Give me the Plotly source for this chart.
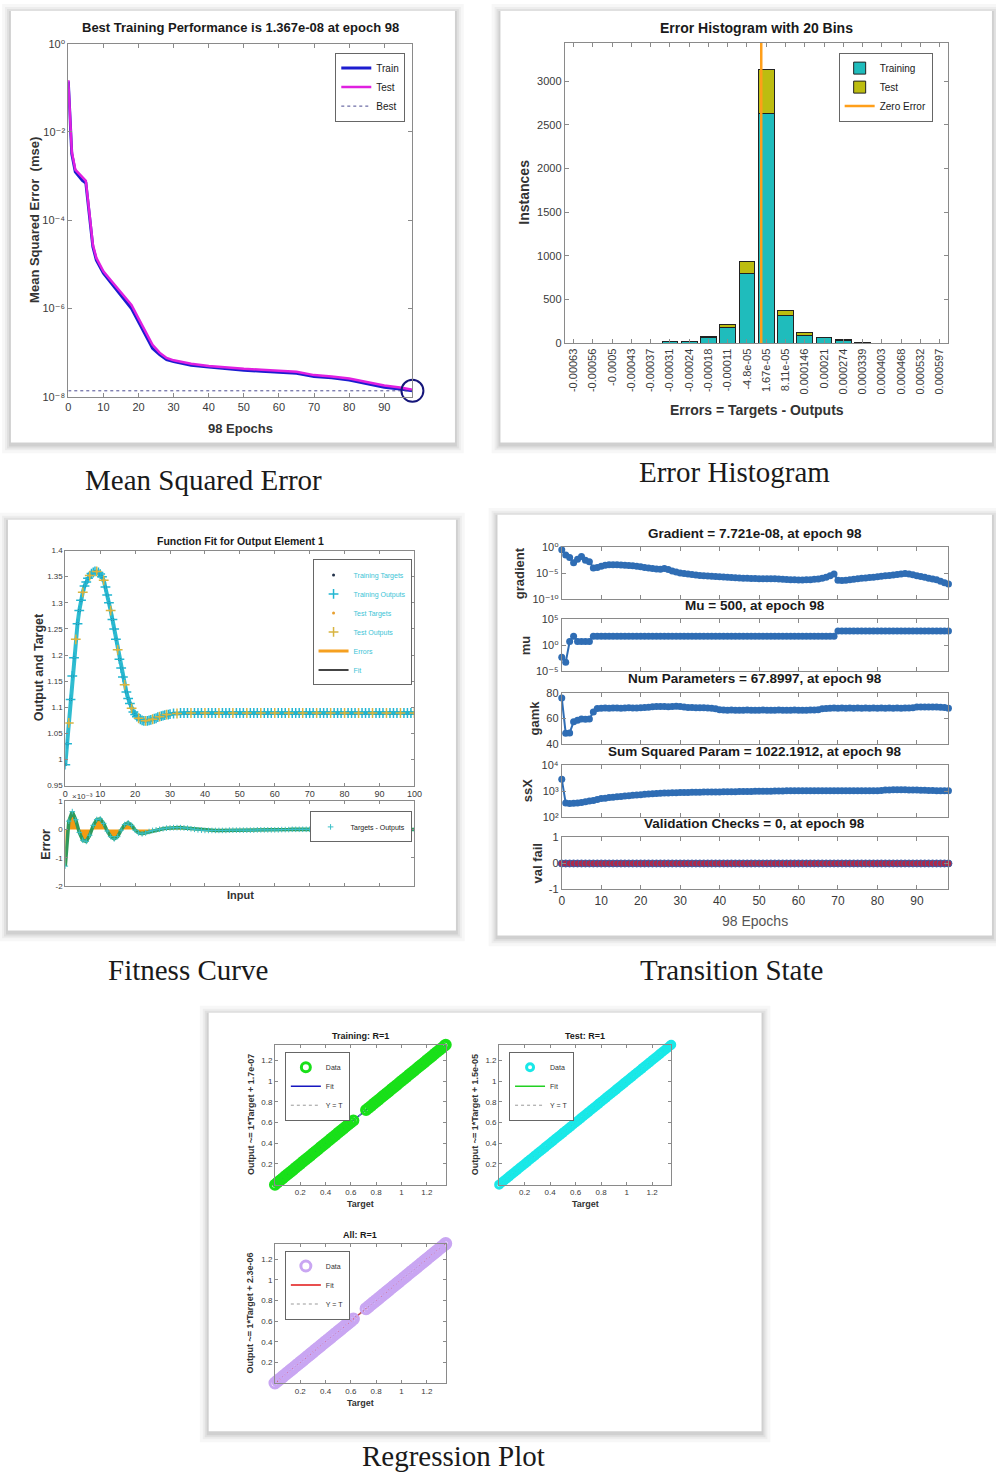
import plotly.graph_objects as go

W, H = 996, 1477
SANS = "Liberation Sans, Arial, DejaVu Sans, sans-serif"
SERIF = "Liberation Serif, Times New Roman, serif"
AX = "#8a8a8a"
TK = "#3a3a3a"

# ---------------- DATA ----------------
# Panel 1: performance (MSE)
mse_epochs = [0, 1, 2, 3, 4, 5, 6, 7, 8, 9, 10, 12, 14, 16, 18, 20, 22, 24, 26, 28, 30,
              35, 40, 45, 50, 55, 60, 65, 70, 75, 80, 85, 90, 95, 98]
mse_train = [1.4e-1, 3.2e-3, 1.25e-3, 1.0e-3, 8.0e-4, 7.0e-4, 1.3e-4, 2.5e-5, 1.25e-5, 9.0e-6,
             6.3e-6, 4.0e-6, 2.5e-6, 1.6e-6, 1.0e-6, 5.0e-7, 2.5e-7, 1.26e-7, 9.0e-8, 7.0e-8,
             6.3e-8, 5.2e-8, 4.7e-8, 4.3e-8, 4.0e-8, 3.8e-8, 3.6e-8, 3.4e-8, 2.9e-8, 2.7e-8,
             2.4e-8, 2.0e-8, 1.65e-8, 1.48e-8, 1.367e-8]
mse_test = [1.5e-1, 3.6e-3, 1.4e-3, 1.15e-3, 9.0e-4, 7.8e-4, 1.5e-4, 2.8e-5, 1.4e-5, 1.0e-5,
            7.0e-6, 4.5e-6, 2.9e-6, 1.9e-6, 1.2e-6, 6.0e-7, 3.0e-7, 1.5e-7, 1.0e-7, 7.6e-8,
            6.7e-8, 5.6e-8, 5.0e-8, 4.6e-8, 4.3e-8, 4.1e-8, 3.9e-8, 3.7e-8, 3.1e-8, 2.9e-8,
            2.6e-8, 2.2e-8, 1.8e-8, 1.6e-8, 1.45e-8]
best_mse = 1.367e-8
best_epoch = 98

# Panel 2: error histogram
bin_labels = ['-0.00063', '-0.00056', '-0.0005', '-0.00043', '-0.00037', '-0.00031',
              '-0.00024', '-0.00018', '-0.00011', '-4.8e-05', '1.67e-05', '8.11e-05',
              '0.000146', '0.00021', '0.000274', '0.000339', '0.000403', '0.000468',
              '0.000532', '0.000597']
hist_training = [2, 0, 0, 0, 0, 20, 20, 65, 182, 795, 2628, 322, 94, 60, 30, 4, 0, 0, 0, 0]
hist_test = [0, 0, 0, 0, 0, 5, 5, 15, 34, 140, 505, 53, 27, 8, 8, 1, 0, 0, 0, 0]

# Panel 3: function fit
fit_input = [0, 0.5, 1, 1.5, 2, 2.5, 3, 3.5, 4, 4.5, 5, 5.5, 6, 6.5, 7, 7.5, 8, 8.5, 9, 9.5,
             10, 10.5, 11, 11.5, 12, 12.5, 13, 13.5, 14, 14.5, 15, 15.5, 16, 16.5, 17, 17.5,
             18, 18.5, 19, 19.5, 20, 20.5, 21, 21.5, 22, 22.5, 23, 23.5, 24, 24.5, 25, 25.5,
             26, 26.5, 27, 27.5, 28, 28.5, 29, 29.5, 30,
             31, 32, 33, 34, 35, 36, 37, 38, 39, 40, 41, 42, 43, 44, 45, 46, 47, 48, 49, 50,
             51, 52, 53, 54, 55, 56, 57, 58, 59, 60, 61, 62, 63, 64, 65, 66, 67, 68, 69, 70,
             71, 72, 73, 74, 75, 76, 77, 78, 79, 80, 81, 82, 83, 84, 85, 86, 87, 88, 89, 90,
             91, 92, 93, 94, 95, 96, 97, 98, 99, 100]
fit_output = [0.99, 1.03, 1.07, 1.115, 1.16, 1.195, 1.23, 1.26, 1.285, 1.305, 1.32, 1.332,
              1.34, 1.347, 1.352, 1.356, 1.358, 1.36, 1.36, 1.358, 1.355, 1.35, 1.343, 1.33,
              1.315, 1.30, 1.285, 1.268, 1.25, 1.23, 1.21, 1.192, 1.175, 1.158, 1.143, 1.129,
              1.117, 1.107, 1.098, 1.091, 1.086, 1.082, 1.079, 1.077, 1.075, 1.074, 1.074,
              1.074, 1.075, 1.076, 1.077, 1.078, 1.079, 1.081, 1.082, 1.083, 1.084, 1.085,
              1.086, 1.086, 1.087,
              1.088, 1.088, 1.089, 1.089, 1.089, 1.089, 1.089, 1.089, 1.089, 1.089,
              1.089, 1.089, 1.089, 1.089, 1.089, 1.089, 1.089, 1.089, 1.089, 1.089,
              1.089, 1.089, 1.089, 1.089, 1.089, 1.089, 1.089, 1.089, 1.089, 1.089,
              1.089, 1.089, 1.089, 1.089, 1.089, 1.089, 1.089, 1.089, 1.089, 1.089,
              1.089, 1.089, 1.089, 1.089, 1.089, 1.089, 1.089, 1.089, 1.089, 1.089,
              1.089, 1.089, 1.089, 1.089, 1.089, 1.089, 1.089, 1.089, 1.089, 1.089,
              1.089, 1.089, 1.089, 1.089, 1.089, 1.089, 1.089, 1.089, 1.089, 1.089]
err_input = list(range(0, 101))
fit_error = [-1.3e-3, 0.3e-3, 0.64e-3, 0.35e-3, -0.1e-3, -0.38e-3, -0.42e-3, -0.2e-3, 0.15e-3, 0.36e-3,
             0.38e-3, 0.22e-3, -0.05e-3, -0.25e-3, -0.33e-3, -0.25e-3, -0.02e-3, 0.18e-3, 0.24e-3, 0.15e-3,
             -0.02e-3, -0.12e-3, -0.15e-3, -0.12e-3, -0.07e-3, -0.03e-3, -0.01e-3, 0.01e-3, 0.03e-3, 0.05e-3,
             0.06e-3, 0.07e-3, 0.07e-3, 0.07e-3, 0.06e-3, 0.05e-3, 0.03e-3, 0.01e-3, -0.01e-3, -0.02e-3,
             -0.03e-3, -0.03e-3, -0.03e-3, -0.03e-3, -0.03e-3, -0.03e-3, -0.03e-3, -0.02e-3, -0.02e-3, -0.02e-3,
             -0.02e-3, -0.02e-3, -0.02e-3, -0.02e-3, -0.02e-3, -0.01e-3, -0.01e-3, -0.01e-3, -0.01e-3, -0.01e-3,
             -0.01e-3, -0.01e-3, 0.0, 0.0, 0.0, 0.01e-3, 0.01e-3, 0.01e-3, 0.01e-3, 0.01e-3,
             0.01e-3, 0.01e-3, 0.01e-3, 0.01e-3, 0.01e-3, 0.01e-3, 0.01e-3, 0.01e-3, 0.01e-3, 0.01e-3,
             0.01e-3, 0.01e-3, 0.0, 0.0, 0.0, 0.0, 0.0, 0.0, 0.0, 0.0,
             0.0, 0.0, 0.0, 0.0, 0.0, 0.0, 0.0, 0.0, 0.0, 0.0,
             0.0]
test_every = 4

# Panel 4: training state
state_epochs = list(range(0, 99))
grad_log10 = [-0.5, -1.5, -2.0, -3.0, -2.3, -1.8, -2.5, -2.8, -4.0, -3.9,
              -3.7, -3.5, -3.4, -3.4, -3.4, -3.45, -3.5, -3.55, -3.6, -3.7,
              -3.8, -3.9, -4.0, -4.1, -4.2, -4.25, -4.1, -4.3, -4.6, -4.8,
              -5.0, -5.1, -5.2, -5.3, -5.4, -5.45, -5.5, -5.55, -5.6, -5.65,
              -5.7, -5.75, -5.8, -5.85, -5.9, -5.95, -6.0, -6.0, -6.05, -6.05,
              -6.1, -6.1, -6.1, -6.1, -6.1, -6.15, -6.2, -6.25, -6.3, -6.3,
              -6.35, -6.35, -6.3, -6.3, -6.2, -6.15, -6.0, -5.8, -5.5, -5.2,
              -6.4, -6.45, -6.4, -6.3, -6.2, -6.1, -6.0, -5.95, -5.85, -5.8,
              -5.7, -5.6, -5.5, -5.45, -5.4, -5.3, -5.2, -5.1, -5.2, -5.35,
              -5.5, -5.65, -5.8, -6.0, -6.15, -6.3, -6.6, -6.9, -7.11]
mu_vals = [0.005, 0.0005, 5, 50, 5, 5, 5, 5,
           50, 50, 50, 50, 50, 50, 50, 50, 50, 50, 50, 50, 50, 50, 50, 50, 50, 50, 50, 50,
           50, 50, 50, 50, 50, 50, 50, 50, 50, 50, 50, 50, 50, 50, 50, 50, 50, 50, 50, 50,
           50, 50, 50, 50, 50, 50, 50, 50, 50, 50, 50, 50, 50, 50, 50, 50, 50, 50, 50, 50,
           50, 50,
           500, 500, 500, 500, 500, 500, 500, 500, 500, 500, 500, 500, 500, 500, 500,
           500, 500, 500, 500, 500, 500, 500, 500, 500, 500, 500, 500, 500, 500]
gamk_vals = [75.9, 48.5, 48.8, 57.4, 58.7, 59.5, 59.3, 59.6, 65.0, 67.7,
             68.0, 68.1, 68.0, 68.2, 68.1, 68.0, 68.2, 68.3, 68.1, 68.2, 68.4, 68.5, 68.7,
             69.0, 69.2, 69.3, 69.2, 69.1, 69.3, 69.4, 69.2,
             68.8, 68.6, 68.5, 68.4, 68.3, 68.3, 68.2, 68.0, 67.6,
             66.8, 66.5, 66.4, 66.5, 66.4, 66.3, 66.4, 66.5, 66.4, 66.3, 66.4, 66.5, 66.4,
             66.3, 66.4, 66.5, 66.4, 66.3, 66.4, 66.5, 66.4, 66.3, 66.4, 66.5, 66.6, 66.8,
             67.5, 67.8, 68.0, 68.1, 68.0, 68.1, 68.0, 68.1, 68.0, 68.1, 68.0, 68.1, 68.0,
             68.1, 68.0, 68.1, 68.0, 68.1, 68.0, 68.1, 68.0, 68.1, 68.2, 68.3,
             68.8, 68.9, 68.9, 68.8, 68.9, 68.8, 68.7, 68.5, 67.9]
ssx_vals = [2900, 340, 330, 335, 345, 360, 385, 410, 430, 470,
            510, 530, 555, 575, 600, 617, 640, 660, 685, 705,
            725, 745, 770, 790, 810, 830, 840, 850, 858, 865, 870,
            878, 885, 892, 898, 905, 910, 915, 920, 925, 930,
            935, 940, 945, 950, 955, 960, 965, 970, 975, 980, 985, 990, 995, 1000, 1010,
            1015, 1018, 1020, 1022, 1020, 1018, 1020, 1022, 1020, 1018, 1020, 1022, 1020,
            1018, 1020, 1022, 1020, 1018, 1020, 1022, 1020, 1018, 1020, 1022, 1025,
            1060, 1090, 1110, 1120, 1125, 1120, 1115, 1110, 1100, 1090, 1080, 1070, 1060,
            1050, 1040, 1035, 1030, 1022.19]
valfail_vals = [0, 0, 0, 0, 0, 0, 0, 0, 0, 0, 0, 0, 0, 0, 0, 0, 0, 0, 0, 0, 0, 0, 0, 0, 0,
                0, 0, 0, 0, 0, 0, 0, 0, 0, 0, 0, 0, 0, 0, 0, 0, 0, 0, 0, 0, 0, 0, 0, 0, 0,
                0, 0, 0, 0, 0, 0, 0, 0, 0, 0, 0, 0, 0, 0, 0, 0, 0, 0, 0, 0, 0, 0, 0, 0, 0,
                0, 0, 0, 0, 0, 0, 0, 0, 0, 0, 0, 0, 0, 0, 0, 0, 0, 0, 0, 0, 0, 0, 0, 0]
state_titles = ["Gradient = 7.721e-08, at epoch 98", "Mu = 500, at epoch 98",
                "Num Parameters = 67.8997, at epoch 98",
                "Sum Squared Param = 1022.1912, at epoch 98",
                "Validation Checks = 0, at epoch 98"]
state_ylabels = ["gradient", "mu", "gamk", "ssX", "val fail"]

# Panel 5: regression
reg_train_targets = [0.00, 0.02, 0.04, 0.06, 0.08, 0.10, 0.12, 0.14, 0.16, 0.18, 0.20,
                     0.22, 0.24, 0.26, 0.28, 0.30, 0.32, 0.34, 0.36, 0.38, 0.40, 0.42,
                     0.44, 0.46, 0.48, 0.50, 0.52, 0.54, 0.56, 0.58, 0.60, 0.62,
                     0.72, 0.74, 0.76, 0.78, 0.80, 0.82, 0.84, 0.86, 0.88, 0.90, 0.92,
                     0.94, 0.96, 0.98, 1.00, 1.02, 1.04, 1.06, 1.08, 1.10, 1.12, 1.14,
                     1.16, 1.18, 1.20, 1.22, 1.24, 1.26, 1.28, 1.30, 1.32, 1.34, 1.35]
reg_train_outputs = list(reg_train_targets)
reg_test_targets = [0.00, 0.02, 0.04, 0.06, 0.08, 0.10, 0.12, 0.14, 0.16, 0.18, 0.20,
                    0.22, 0.24, 0.26, 0.28, 0.30, 0.32, 0.34, 0.36, 0.38, 0.40, 0.42,
                    0.44, 0.46, 0.48, 0.50, 0.52, 0.54, 0.56, 0.58, 0.60, 0.62, 0.64,
                    0.66, 0.68, 0.70, 0.72, 0.74, 0.76, 0.78, 0.80, 0.82, 0.84, 0.86,
                    0.88, 0.90, 0.92, 0.94, 0.96, 0.98, 1.00, 1.02, 1.04, 1.06, 1.08,
                    1.10, 1.12, 1.14, 1.16, 1.18, 1.20, 1.22, 1.24, 1.26, 1.28, 1.30,
                    1.32, 1.34, 1.35]
reg_test_outputs = list(reg_test_targets)
reg_all_targets = list(reg_train_targets)
reg_all_outputs = list(reg_train_outputs)
reg_range = [0.0, 1.35]

# ---------------- HELPERS ----------------
def xdom(l, r):
    return [l / W, r / W]

def ydom(t, b):
    return [1 - b / H, 1 - t / H]

annotations = []
shapes = []

def text(s, x, y, size, bold=False, color="#1a1a1a", angle=0, family=SANS):
    annotations.append(dict(text=f"<b>{s}</b>" if bold else s, x=x / W, y=1 - y / H,
                            xref="paper", yref="paper", showarrow=False,
                            font=dict(family=family, size=size, color=color),
                            textangle=angle, xanchor="center", yanchor="middle"))

def panel(l, t, r, b):
    for k, a in [(9, 0.03), (6, 0.04), (4, 0.05), (2, 0.07)]:
        shapes.append(dict(type="rect", xref="paper", yref="paper", layer="below",
                           x0=(l - k) / W, x1=(r + k) / W, y0=1 - (b + k + 2) / H,
                           y1=1 - (t - k + 2) / H, fillcolor=f"rgba(0,0,0,{a})",
                           line=dict(width=0)))
    shapes.append(dict(type="rect", xref="paper", yref="paper", layer="below",
                       x0=l / W, x1=r / W, y0=1 - b / H, y1=1 - t / H,
                       fillcolor="white", line=dict(width=0)))

def axis(dom, rng, anchor, typ="linear", tickvals=None, ticktext=None, labels=True,
         fs=10, ticklen=4, angle=None):
    d = dict(domain=dom, range=rng, anchor=anchor, type=typ, showline=True,
             linecolor=AX, linewidth=1, mirror="ticks", ticks="inside", ticklen=ticklen,
             tickcolor=AX, showgrid=False, zeroline=False, showticklabels=labels,
             tickfont=dict(family=SANS, size=fs, color=TK), fixedrange=True)
    if tickvals is not None:
        d.update(tickmode="array", tickvals=tickvals,
                 ticktext=ticktext if ticktext is not None else [str(v) for v in tickvals])
    if angle is not None:
        d["tickangle"] = angle
    return d

def legend(l, t, fs, color="#1a1a1a", itemwidth=30):
    return dict(x=l / W, y=1 - t / H, xanchor="left", yanchor="top", bgcolor="white",
                bordercolor="#666", borderwidth=1, itemwidth=itemwidth, tracegroupgap=0,
                font=dict(family=SANS, size=fs, color=color), traceorder="normal")

SUPMAP = str.maketrans("0123456789-", "⁰¹²³⁴⁵⁶⁷⁸⁹⁻")

def sup(e):
    return "10" + str(e).translate(SUPMAP)

fig = go.Figure()
layout = {}

# ---------------- PANEL FRAMES & CAPTIONS ----------------
panel(8, 5, 457, 440)
panel(503, 5, 1000, 440)
panel(5, 518, 458, 932)
panel(500, 513, 1000, 937)
panel(208, 1015, 767, 1437)
text("Mean Squared Error", 203, 478, 29, family=SERIF)
text("Error Histogram", 740, 470, 29, family=SERIF)
text("Fitness Curve", 187, 972, 29, family=SERIF)
text("Transition State", 737, 972, 29, family=SERIF)
text("Regression Plot", 456, 1462, 29, family=SERIF)

# ---------------- PANEL 1 ----------------
layout["xaxis"] = axis(xdom(66, 414), [0, 98], "y", tickvals=list(range(0, 91, 10)), fs=11)
layout["yaxis"] = axis(ydom(38, 394), [-8, 0], "x", typ="log",
                       tickvals=[1, 1e-2, 1e-4, 1e-6, 1e-8],
                       ticktext=[sup(0), sup(-2), sup(-4), sup(-6), sup(-8)], fs=11)
fig.add_trace(go.Scatter(x=mse_epochs, y=mse_train, mode="lines", name="Train",
                         line=dict(color="#1c1cd0", width=3), xaxis="x", yaxis="y",
                         legend="legend"))
fig.add_trace(go.Scatter(x=mse_epochs, y=mse_test, mode="lines", name="Test",
                         line=dict(color="#e020e0", width=2.5), xaxis="x", yaxis="y",
                         legend="legend"))
fig.add_trace(go.Scatter(x=[mse_epochs[0], mse_epochs[-1]], y=[best_mse, best_mse],
                         mode="lines", name="Best",
                         line=dict(color="#4a4a90", width=1, dash="dot"),
                         xaxis="x", yaxis="y", legend="legend"))
fig.add_trace(go.Scatter(x=[best_epoch], y=[best_mse], mode="markers", showlegend=False,
                         marker=dict(symbol="circle-open", size=22, color="#16167a",
                                     line=dict(color="#16167a", width=2)),
                         cliponaxis=False, xaxis="x", yaxis="y"))
layout["legend"] = legend(336, 47, 10)
text("Best Training Performance is 1.367e-08 at epoch 98", 240, 22, 13, bold=True)
text("98 Epochs", 240, 426, 13, bold=True, color="#333")
text("Mean Squared Error  (mse)", 32, 216, 13, bold=True, color="#333", angle=-90)

# ---------------- PANEL 2 ----------------
bin_pos = list(range(len(bin_labels)))
i0 = [i for i in range(len(bin_labels) - 1)
      if float(bin_labels[i]) < 0 <= float(bin_labels[i + 1])][0]
zero_pos = i0 + (0 - float(bin_labels[i0])) / (float(bin_labels[i0 + 1]) - float(bin_labels[i0]))
hist_top = 3440
layout["xaxis2"] = axis(xdom(568, 956), [-0.46, 19.46], "y2", tickvals=bin_pos,
                        ticktext=bin_labels, fs=11, angle=-90)
layout["yaxis2"] = axis(ydom(37, 340), [0, hist_top], "x2",
                        tickvals=[0, 500, 1000, 1500, 2000, 2500, 3000], fs=11)
fig.add_trace(go.Bar(x=bin_pos, y=hist_training, name="Training", width=0.82,
                     marker=dict(color="#1fbcbc", line=dict(color="#222", width=1)),
                     xaxis="x2", yaxis="y2", legend="legend2"))
fig.add_trace(go.Bar(x=bin_pos, y=hist_test, name="Test", width=0.82,
                     marker=dict(color="#bdbd10", line=dict(color="#222", width=1)),
                     xaxis="x2", yaxis="y2", legend="legend2"))
fig.add_trace(go.Scatter(x=[zero_pos, zero_pos], y=[0, hist_top], mode="lines",
                         name="Zero Error", line=dict(color="#ff9f1a", width=2.5),
                         cliponaxis=False, xaxis="x2", yaxis="y2", legend="legend2"))
layout["legend2"] = legend(845, 47, 10)
text("Error Histogram with 20 Bins", 762, 22, 14, bold=True)
text("Errors = Targets - Outputs", 762, 407, 14, bold=True, color="#333")
text("Instances", 527, 188, 14, bold=True, color="#333", angle=-90)

# ---------------- PANEL 3 ----------------
tr_idx = [i for i in range(len(fit_input)) if i % test_every != 2]
te_idx = [i for i in range(len(fit_input)) if i % test_every == 2]
layout["xaxis3"] = axis(xdom(63, 416), [0, 100], "y3", tickvals=list(range(0, 101, 10)),
                        fs=9, ticklen=3)
layout["yaxis3"] = axis(ydom(549, 786), [0.95, 1.4], "x3",
                        tickvals=[0.95, 1, 1.05, 1.1, 1.15, 1.2, 1.25, 1.3, 1.35, 1.4],
                        ticktext=["0.95", "1", "1.05", "1.1", "1.15", "1.2", "1.25", "1.3",
                                  "1.35", "1.4"], fs=8, ticklen=3)
layout["xaxis4"] = axis(xdom(63, 416), [0, 100], "y4", tickvals=list(range(0, 101, 10)),
                        labels=False, ticklen=3)
layout["yaxis4"] = axis(ydom(802, 887), [-2e-3, 1e-3], "x4",
                        tickvals=[-2e-3, -1e-3, 0, 1e-3], ticktext=["-2", "-1", "0", "1"],
                        fs=8, ticklen=3)
fig.add_trace(go.Scatter(x=fit_input, y=fit_output, mode="lines", name="Fit",
                         line=dict(color="#444", width=1), xaxis="x3", yaxis="y3",
                         showlegend=False))
fig.add_trace(go.Scatter(x=fit_input, y=fit_output, mode="lines", showlegend=False,
                         line=dict(color="#30bcd0", width=4), xaxis="x3", yaxis="y3"))
fig.add_trace(go.Scatter(x=[fit_input[i] for i in tr_idx], y=[fit_output[i] for i in tr_idx],
                         mode="markers", name="Training Targets",
                         marker=dict(symbol="circle", size=3, color="#23324a"),
                         xaxis="x3", yaxis="y3", legend="legend3"))
fig.add_trace(go.Scatter(x=[fit_input[i] for i in tr_idx], y=[fit_output[i] for i in tr_idx],
                         mode="markers", name="Training Outputs",
                         marker=dict(symbol="cross-thin", size=7, color="#22b6d2",
                                     line=dict(color="#22b6d2", width=1.5)),
                         xaxis="x3", yaxis="y3", legend="legend3"))
fig.add_trace(go.Scatter(x=[fit_input[i] for i in te_idx], y=[fit_output[i] for i in te_idx],
                         mode="markers", name="Test Targets",
                         marker=dict(symbol="circle", size=3, color="#e8a030"),
                         xaxis="x3", yaxis="y3", legend="legend3"))
fig.add_trace(go.Scatter(x=[fit_input[i] for i in te_idx], y=[fit_output[i] for i in te_idx],
                         mode="markers", name="Test Outputs",
                         marker=dict(symbol="cross-thin", size=7, color="#d8b440",
                                     line=dict(color="#d8b440", width=1.5)),
                         xaxis="x3", yaxis="y3", legend="legend3"))
fig.add_trace(go.Scatter(x=[None], y=[None], mode="lines", name="Errors",
                         line=dict(color="#f5a020", width=3), xaxis="x3", yaxis="y3",
                         legend="legend3"))
fig.add_trace(go.Scatter(x=[None], y=[None], mode="lines", name="Fit",
                         line=dict(color="#444", width=2), xaxis="x3", yaxis="y3",
                         legend="legend3"))
fig.add_trace(go.Scatter(x=err_input, y=fit_error, mode="lines", fill="tozeroy",
                         fillcolor="#f39a12", line=dict(color="#2f9a5a", width=3.5),
                         showlegend=False, xaxis="x4", yaxis="y4"))
fig.add_trace(go.Scatter(x=err_input, y=fit_error, mode="markers", name="Targets - Outputs",
                         marker=dict(symbol="cross-thin", size=4, color="#3cc0c8",
                                     line=dict(color="#3cc0c8", width=1)),
                         xaxis="x4", yaxis="y4", legend="legend4"))
layout["legend3"] = legend(313, 558, 7, color="#3cc4d6")
layout["legend4"] = legend(310, 812, 7, color="#222")
text("Function Fit for Output Element 1", 240, 539, 10.5, bold=True)
text("Output and Target", 36, 667, 12.5, bold=True, color="#333", angle=-90)
text("Error", 44, 845, 12.5, bold=True, color="#333", angle=-90)
text("Input", 240, 896, 11, bold=True, color="#333")
text("×" + sup(-3), 80, 797, 8, color=TK)

# ---------------- PANEL 4 ----------------
state_series = [[10 ** v for v in grad_log10], mu_vals, gamk_vals, ssx_vals, valfail_vals]
state_boxes = [(545.7, 597.7), (618, 670.7), (692.3, 744.3), (765.7, 817.3), (838.3, 890.7)]
state_types = ["log", "log", "linear", "log", "linear"]
state_ranges = [[-10, 0], [-5, 5], [40, 80], [2, 4], [-1, 1]]
state_ticks = [([1e-10, 1e-5, 1], [sup(-10), sup(-5), sup(0)]),
               ([1e-5, 1, 1e5], [sup(-5), sup(0), sup(5)]),
               ([40, 60, 80], ["40", "60", "80"]),
               ([1e2, 1e3, 1e4], [sup(2), sup(3), sup(4)]),
               ([-1, 0, 1], ["-1", "0", "1"])]
state_ylab_x = [522, 528, 537, 530, 540]
for k in range(5):
    n = 5 + k
    t, b = state_boxes[k]
    layout[f"xaxis{n}"] = axis(xdom(565, 956), [0, 98], f"y{n}",
                               tickvals=list(range(0, 91, 10)), labels=(k == 4), fs=12)
    layout[f"yaxis{n}"] = axis(ydom(t, b), state_ranges[k], f"x{n}", typ=state_types[k],
                               tickvals=state_ticks[k][0], ticktext=state_ticks[k][1], fs=11)
    if k < 4:
        mk = dict(symbol="circle", size=7, color="#2f6db4", line=dict(width=0))
        ln = dict(color="#2f6db4", width=2)
    else:
        mk = dict(symbol="circle", size=7, color="#b02848", line=dict(color="#3a5fa8", width=1))
        ln = dict(color="#3a5fa8", width=2)
    fig.add_trace(go.Scatter(x=state_epochs, y=state_series[k], mode="lines+markers",
                             marker=mk, line=ln, showlegend=False, cliponaxis=False,
                             xaxis=f"x{n}", yaxis=f"y{n}"))
    text(state_titles[k], 760, t - 14, 13.5, bold=True)
    text(state_ylabels[k], state_ylab_x[k], (t + b) / 2, 13, bold=True, color="#333",
         angle=-90)
text("98 Epochs", 760, 922, 14, color="#555")

# ---------------- PANEL 5 ----------------
reg_boxes = [(275, 447.7, 1047.3, 1188.3), (501.7, 675.7, 1047.3, 1188.3),
             (275, 447.7, 1247.7, 1388.3)]
reg_sets = [(reg_train_targets, reg_train_outputs, "#19e019", "#1616c0", 9),
            (reg_test_targets, reg_test_outputs, "#19e8e8", "#22d022", 7),
            (reg_all_targets, reg_all_outputs, "#c9a6f2", "#e01414", 10)]
reg_titles = ["Training: R=1", "Test: R=1", "All: R=1"]
reg_ylabels = ["Output ~= 1*Target + 1.7e-07", "Output ~= 1*Target + 1.5e-05",
               "Output ~= 1*Target + 2.3e-06"]
reg_ticks = [0.2, 0.4, 0.6, 0.8, 1, 1.2]
reg_ticktext = ["0.2", "0.4", "0.6", "0.8", "1", "1.2"]
for k in range(3):
    n = 10 + k
    l, r, t, b = reg_boxes[k]
    tg, out, dcol, fcol, msz = reg_sets[k]
    layout[f"xaxis{n}"] = axis(xdom(l, r), reg_range, f"y{n}", tickvals=reg_ticks,
                               ticktext=reg_ticktext, fs=8, ticklen=3)
    layout[f"yaxis{n}"] = axis(ydom(t, b), reg_range, f"x{n}", tickvals=reg_ticks,
                               ticktext=reg_ticktext, fs=8, ticklen=3)
    lg = f"legend{5 + k}"
    fig.add_trace(go.Scatter(x=reg_range, y=reg_range, mode="lines", name="Fit",
                             line=dict(color=fcol, width=1.5), xaxis=f"x{n}", yaxis=f"y{n}",
                             legend=lg, legendrank=2))
    fig.add_trace(go.Scatter(x=reg_range, y=reg_range, mode="lines", name="Y = T",
                             line=dict(color="#999", width=1, dash="dot"),
                             xaxis=f"x{n}", yaxis=f"y{n}", legend=lg, legendrank=3))
    fig.add_trace(go.Scatter(x=tg, y=out, mode="markers", name="Data",
                             marker=dict(symbol="circle-open", size=msz, color=dcol,
                                         line=dict(color=dcol, width=3)),
                             cliponaxis=False, xaxis=f"x{n}", yaxis=f"y{n}", legend=lg,
                             legendrank=1))
    layout[lg] = legend(l + 10, t + 7, 7, color="#333", itemwidth=30)
    cx = (l + r) / 2
    text(reg_titles[k], cx, t - 9, 9, bold=True)
    text("Target", cx, b + 20, 9, bold=True, color="#333")
    text(reg_ylabels[k], l - 25, (t + b) / 2, 9, bold=True, color="#333", angle=-90)

fig.update_layout(**layout)
fig.update_layout(width=W, height=H, margin=dict(l=0, r=0, t=0, b=0, pad=0),
                  paper_bgcolor="white", plot_bgcolor="white", barmode="stack",
                  bargap=0.18, annotations=annotations, shapes=shapes,
                  font=dict(family=SANS), hovermode=False)
fig.write_html("out.html")
